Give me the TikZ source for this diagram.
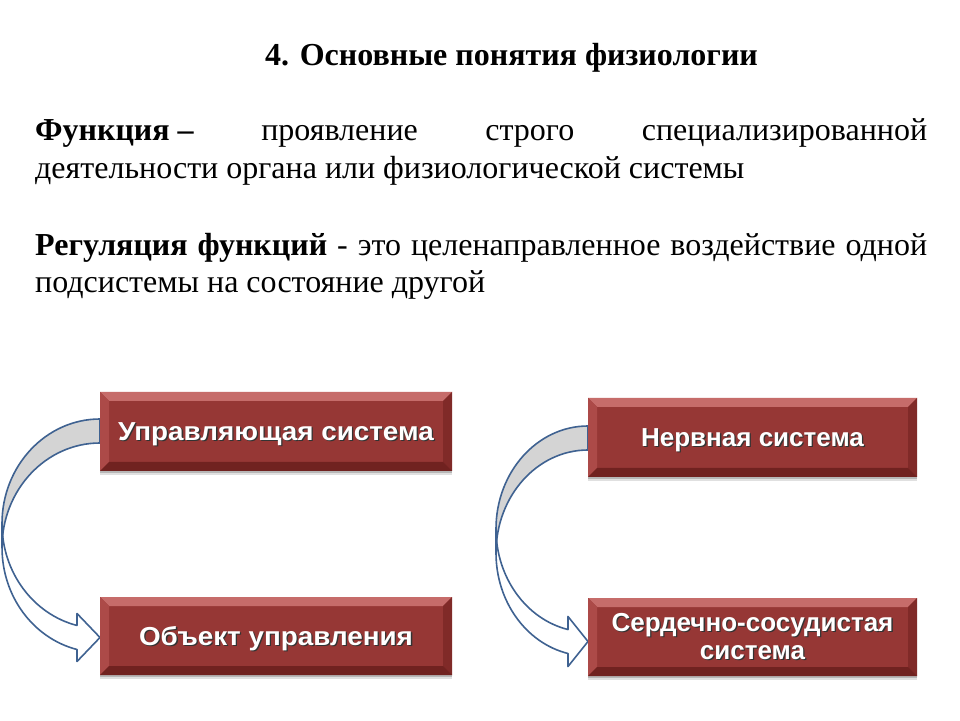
\documentclass[tikz,border=0pt]{standalone}
\usepackage{fontspec}
\setmainfont{Liberation Serif}
\newfontfamily\boxfont{Liberation Sans}
\newfontfamily\boxfontwide{Liberation Sans}[FakeStretch=1.07]
\usetikzlibrary{calc,shadows}
\definecolor{boxred}{RGB}{150,55,53}
\definecolor{bevtop}{RGB}{198,108,106}
\definecolor{bevleft}{RGB}{172,74,72}
\definecolor{bevright}{RGB}{128,42,40}
\definecolor{bevbot}{RGB}{112,34,32}
\definecolor{arrowblue}{RGB}{63,98,145}
\definecolor{backgray}{RGB}{212,212,212}
\newcommand\shd[1]{\leavevmode\rlap{\hspace{1.3pt}\raisebox{-1.3pt}{\textcolor{black!80}{#1}}}#1}
\newcommand\lowr[1]{\raisebox{-3pt}[\height][\depth]{#1}}
\tikzset{
  bodytext/.style={anchor=base west, inner sep=0pt, font=\fontsize{32}{37}\selectfont},
  redbox/.style={fill=boxred, inner sep=0pt, text=white, align=center,
    font=\boxfont\bfseries\fontsize{26}{28.3}\selectfont,
    general shadow={shadow xshift=0pt, shadow yshift=-4pt, opacity=0.12, fill=black},
    general shadow={shadow xshift=0pt, shadow yshift=-2pt, opacity=0.18, fill=black},
    path picture={
      \fill[bevtop] (path picture bounding box.north west) -- (path picture bounding box.north east)
        -- ([shift={(-9pt,-9pt)}]path picture bounding box.north east) -- ([shift={(9pt,-9pt)}]path picture bounding box.north west) -- cycle;
      \fill[bevleft] (path picture bounding box.north west) -- ([shift={(9pt,-9pt)}]path picture bounding box.north west)
        -- ([shift={(9pt,9pt)}]path picture bounding box.south west) -- (path picture bounding box.south west) -- cycle;
      \fill[bevright] (path picture bounding box.north east) -- ([shift={(-9pt,-9pt)}]path picture bounding box.north east)
        -- ([shift={(-9pt,9pt)}]path picture bounding box.south east) -- (path picture bounding box.south east) -- cycle;
      \fill[bevbot] (path picture bounding box.south west) -- ([shift={(9pt,9pt)}]path picture bounding box.south west)
        -- ([shift={(-9pt,9pt)}]path picture bounding box.south east) -- (path picture bounding box.south east) -- cycle;
    }},
  widetext/.style={font=\boxfontwide\bfseries\fontsize{26}{28.3}\selectfont},
  backband/.style={fill=backgray, draw=arrowblue, line width=1.6pt, line join=round},
  frontband/.style={fill=white, draw=arrowblue, line width=1.6pt, line join=round},
}
\begin{document}
\begin{tikzpicture}[x=1pt,y=1pt]
\useasboundingbox (0,0) rectangle (960,720);
\fill[white] (0,0) rectangle (960,720);

% title and text
\node[anchor=base, inner sep=0pt, font=\bfseries\fontsize{32}{36}\selectfont] (title) at (511.5,654) {4. Основные понятия физиологии};
\node[bodytext] (f1) at (35,579) {\makebox[892pt][l]{\textbf{\mbox{Функция –}}\hfill проявление\hfill строго\hfill специализированной}};
\node[bodytext] (f2) at (35,541.5) {деятельности органа или физиологической системы};
\node[bodytext] (r1) at (35,464) {\makebox[892pt][s]{\textbf{Регуляция функций} - это целенаправленное воздействие одной}};
\node[bodytext] (r2) at (35,427) {подсистемы на состояние другой};

% left curved arrow
\path[backband] (100,301) arc[start angle=90,end angle=180,x radius=98,y radius=104.7]
  -- (2,172.3) arc[start angle=180,end angle=90,x radius=98,y radius=104.7] -- cycle;
\path[frontband] (2,196.3) arc[start angle=180,end angle=256.4,x radius=98,y radius=104.7]
  -- (77,106.5) -- (100,82.5) -- (77,58.5) -- (77,70.5)
  arc[start angle=256.4,end angle=180,x radius=98,y radius=104.7] -- cycle;

% right curved arrow
\path[backband] (588,294) arc[start angle=90,end angle=180,x radius=92,y radius=103]
  -- (496,167) arc[start angle=180,end angle=90,x radius=92,y radius=103] -- cycle;
\path[frontband] (496,191) arc[start angle=180,end angle=257.44,x radius=92,y radius=103]
  -- (568,103.5) -- (588,78.5) -- (568,53.5) -- (568,66.5)
  arc[start angle=257.44,end angle=180,x radius=92,y radius=103] -- cycle;

% boxes
\node[redbox, widetext, minimum width=352pt, minimum height=79pt] (ctrl) at (276,288.5) {\lowr{\shd{Управляющая система}}};
\node[redbox, widetext, minimum width=352pt, minimum height=78pt] (obj) at (276,84) {\lowr{\shd{Объект управления}}};
\node[redbox, minimum width=329pt, minimum height=79pt] (nerv) at (752.5,282.5) {\lowr{\shd{Нервная система}}};
\node[redbox, minimum width=329pt, minimum height=78pt] (cardio) at (752.5,83) {\shd{Сердечно-сосудистая}\\\shd{система}};
\end{tikzpicture}
\end{document}
